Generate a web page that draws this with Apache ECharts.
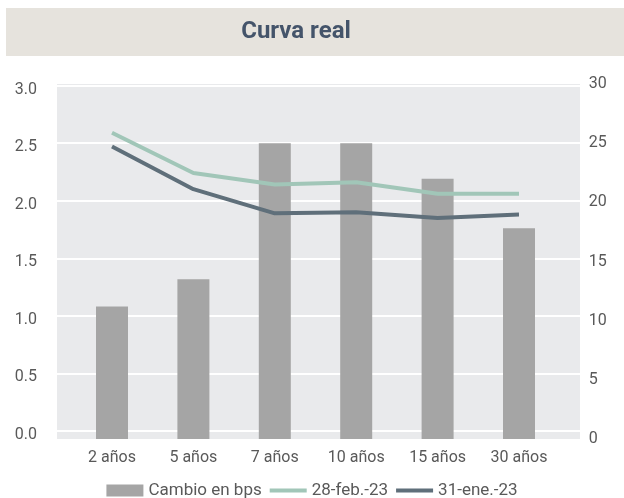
<!DOCTYPE html>
<html>
<head>
<meta charset="utf-8">
<script src="https://cdn.jsdelivr.net/npm/echarts@6/dist/echarts.min.js"></script>
<style>
  html, body { margin: 0; padding: 0; background: #fff; }
  #chart { width: 624px; height: 498px; }
</style>
</head>
<body>
<div id="chart"></div>
<script>
// datos
const plazos = ['2 años', '5 años', '7 años', '10 años', '15 años', '30 años'];
const cambioBps = [11.2, 13.5, 25.0, 25.0, 22.0, 17.8];
const feb23 = [2.59, 2.24, 2.14, 2.16, 2.06, 2.06];
const ene23 = [2.47, 2.10, 1.89, 1.90, 1.85, 1.88];

const font = 'Roboto';
const labelColor = '#595959';

const myChart = echarts.init(document.getElementById('chart'));

const option = {
  backgroundColor: '#fff',
  animation: false,
  graphic: [
    { type: 'rect', z: -10, shape: { x: 6, y: 8, width: 618, height: 48 }, style: { fill: '#e6e3dd' } },
    { type: 'text', z: 10, x: 296, y: 32, style: { text: 'Curva real', fill: '#44546a', font: 'bold 24px ' + font, textAlign: 'center', textVerticalAlign: 'middle' } },
    { type: 'rect', z: -10, shape: { x: 57, y: 84, width: 523, height: 355 }, style: { fill: '#e9eaec' } }
  ],
  legend: {
    bottom: -6,
    left: 'center',
    itemGap: 6,
    itemWidth: 37,
    itemHeight: 12,
    textStyle: { color: labelColor, fontSize: 17, fontFamily: font },
    data: [
      { name: 'Cambio en bps', icon: 'rect' },
      { name: '28-feb.-23', itemStyle: { opacity: 0 }, lineStyle: { width: 4 } },
      { name: '31-ene.-23', itemStyle: { opacity: 0 }, lineStyle: { width: 4 } }
    ]
  },
  grid: [
    // eje izquierdo y lineas de division
    { left: 57, right: 44, top: 85.5, bottom: 67 },
    // barras, eje derecho y categorias
    { left: 71.3, right: 64.3, top: 84, bottom: 59 },
    // lineas
    { left: 71.3, right: 64.3, top: 85.5, bottom: 67 }
  ],
  xAxis: [
    { type: 'category', gridIndex: 0, data: plazos, show: false },
    {
      type: 'category', gridIndex: 1, data: plazos,
      axisLine: { show: false }, axisTick: { show: false },
      axisLabel: { color: labelColor, fontSize: 16, fontFamily: font, margin: 11 }
    },
    { type: 'category', gridIndex: 2, data: plazos, show: false }
  ],
  yAxis: [
    {
      type: 'value', gridIndex: 0, position: 'left', min: 0, max: 3, interval: 0.5,
      axisLine: { show: false }, axisTick: { show: false },
      axisLabel: {
        color: labelColor, fontSize: 16, fontFamily: font, margin: 20,
        verticalAlign: 'top', lineHeight: 8,
        formatter: v => v.toFixed(1)
      },
      splitLine: { lineStyle: { color: '#ffffff', width: 2 } }
    },
    {
      type: 'value', gridIndex: 1, position: 'right', min: 0, max: 30, interval: 5,
      axisLine: { show: false }, axisTick: { show: false },
      axisLabel: { color: labelColor, fontSize: 16, fontFamily: font, margin: 29 },
      splitLine: { show: false }
    },
    { type: 'value', gridIndex: 2, min: 0, max: 3, show: false, splitLine: { show: false } }
  ],
  series: [
    {
      name: 'Cambio en bps', type: 'bar', xAxisIndex: 1, yAxisIndex: 1,
      data: cambioBps, barWidth: 32,
      itemStyle: { color: '#a5a5a5' }
    },
    {
      name: '28-feb.-23', type: 'line', xAxisIndex: 2, yAxisIndex: 2,
      data: feb23, symbol: 'none', z: 3,
      lineStyle: { color: '#a1c6b8', width: 4 }, itemStyle: { color: '#a1c6b8' }
    },
    {
      name: '31-ene.-23', type: 'line', xAxisIndex: 2, yAxisIndex: 2,
      data: ene23, symbol: 'none', z: 4,
      lineStyle: { color: '#5f6f7a', width: 4 }, itemStyle: { color: '#5f6f7a' }
    }
  ]
};

myChart.setOption(option);

window.addEventListener('resize', function() {
  myChart.resize();
});
</script>
</body>
</html>
